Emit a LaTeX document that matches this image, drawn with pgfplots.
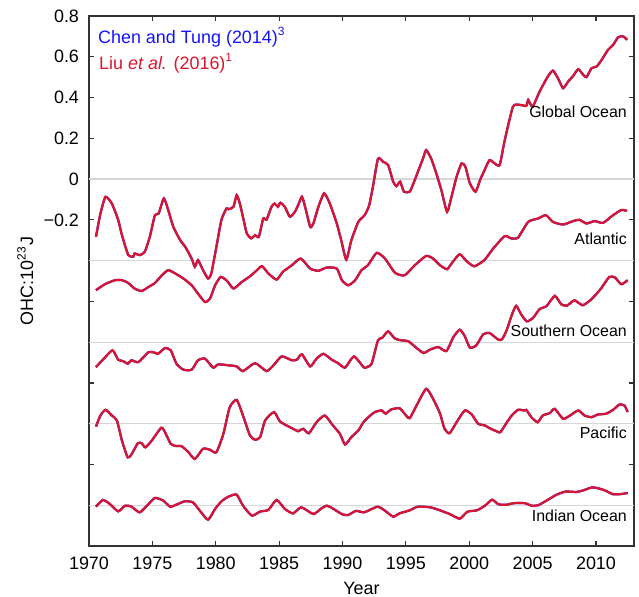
\documentclass[border=0pt]{standalone}
\usepackage{pgfplots}
\pgfplotsset{compat=1.18}
\usepackage{pgfplotstable}
\usepackage{fontspec}
\setmainfont{Liberation Sans}
\definecolor{cred}{RGB}{218,22,45}
\definecolor{cblue}{RGB}{20,20,250}
\definecolor{gridc}{RGB}{215,215,215}
\definecolor{axc}{RGB}{50,50,50}

\pgfplotstableread{
x y
1970.55 -0.283
1970.9 -0.17
1971.3 -0.087
1971.8 -0.12
1972.3 -0.20
1972.6 -0.275
1973.1 -0.373
1973.5 -0.38
1973.6 -0.365
1974.0 -0.373
1974.4 -0.357
1974.8 -0.283
1975.2 -0.177
1975.5 -0.169
1975.9 -0.095
1976.25 -0.152
1976.65 -0.234
1977.2 -0.30
1977.6 -0.333
1978.1 -0.39
1978.35 -0.43
1978.6 -0.398
1979.0 -0.447
1979.4 -0.488
1979.65 -0.463
1980.05 -0.333
1980.45 -0.20
1980.85 -0.144
1981.0 -0.148
1981.4 -0.136
1981.65 -0.079
1981.9 -0.12
1982.2 -0.20
1982.45 -0.267
1982.8 -0.291
1983.1 -0.275
1983.4 -0.283
1983.75 -0.193
1984.0 -0.20
1984.4 -0.136
1984.65 -0.12
1984.9 -0.136
1985.1 -0.116
1985.45 -0.136
1985.85 -0.185
1986.25 -0.16
1986.5 -0.128
1986.8 -0.087
1987.05 -0.136
1987.45 -0.234
1987.7 -0.218
1988.1 -0.136
1988.55 -0.07
1989.0 -0.12
1989.55 -0.218
1989.9 -0.30
1990.3 -0.395
1990.7 -0.30
1991.25 -0.21
1991.75 -0.177
1992.1 -0.13
1992.4 -0.038
1992.8 0.10
1993.2 0.085
1993.6 0.069
1994.0 -0.013
1994.25 -0.035
1994.55 -0.013
1994.85 -0.062
1995.3 -0.062
1995.6 -0.021
1996.0 0.044
1996.35 0.10
1996.6 0.142
1997.0 0.10
1997.4 0.028
1997.8 -0.054
1998.25 -0.16
1998.6 -0.087
1999.0 0.011
1999.4 0.077
1999.7 0.06
2000.05 -0.021
2000.5 -0.062
2000.85 -0.005
2001.15 0.036
2001.6 0.093
2002.0 0.077
2002.4 0.069
2002.8 0.19
2003.45 0.355
2004.0 0.364
2004.5 0.359
2004.65 0.388
2005.0 0.355
2005.55 0.429
2006.2 0.503
2006.6 0.532
2007.0 0.495
2007.4 0.446
2007.8 0.478
2008.2 0.506
2008.6 0.539
2009.0 0.511
2009.25 0.50
2009.65 0.544
2010.05 0.552
2010.45 0.585
2010.95 0.634
2011.35 0.658
2011.75 0.696
2012.15 0.70
2012.45 0.683
}\globtab

\pgfplotstableread{
x y
1970.55 -0.545
1971.25 -0.516
1972.05 -0.496
1972.6 -0.496
1973.1 -0.51
1973.6 -0.537
1974.15 -0.549
1974.7 -0.529
1975.2 -0.51
1975.75 -0.472
1976.25 -0.447
1976.8 -0.463
1977.45 -0.488
1978.1 -0.521
1978.6 -0.562
1979.15 -0.603
1979.55 -0.586
1979.95 -0.521
1980.4 -0.48
1980.9 -0.50
1981.4 -0.537
1982.05 -0.505
1982.7 -0.477
1983.2 -0.45
1983.65 -0.427
1984.15 -0.463
1984.8 -0.493
1985.3 -0.455
1986.0 -0.423
1986.7 -0.39
1987.45 -0.439
1988.1 -0.45
1988.75 -0.434
1989.55 -0.439
1989.95 -0.496
1990.45 -0.521
1991.0 -0.496
1991.5 -0.447
1992.0 -0.423
1992.7 -0.362
1993.35 -0.39
1994.15 -0.46
1994.9 -0.472
1995.7 -0.423
1996.6 -0.377
1997.15 -0.39
1997.7 -0.423
1998.25 -0.442
1998.7 -0.406
1999.25 -0.369
1999.8 -0.403
2000.4 -0.428
2001.2 -0.397
2001.9 -0.34
2002.8 -0.28
2003.3 -0.291
2003.85 -0.287
2004.65 -0.21
2005.45 -0.193
2006.05 -0.177
2006.6 -0.21
2007.4 -0.223
2008.2 -0.206
2008.7 -0.20
2009.25 -0.218
2009.9 -0.206
2010.55 -0.215
2011.35 -0.177
2012.0 -0.152
2012.45 -0.156
}\atltab

\pgfplotstableread{
x y
1970.55 -0.922
1971.1 -0.886
1971.85 -0.84
1972.3 -0.886
1972.7 -0.893
1973.05 -0.906
1973.35 -0.889
1973.9 -0.898
1974.7 -0.849
1975.2 -0.852
1975.45 -0.857
1976.0 -0.829
1976.45 -0.84
1976.9 -0.906
1977.45 -0.935
1978.1 -0.935
1978.6 -0.889
1979.15 -0.881
1979.8 -0.925
1980.2 -0.909
1981.05 -0.914
1981.65 -0.919
1982.15 -0.942
1983.1 -0.903
1984.0 -0.942
1984.55 -0.914
1985.2 -0.87
1986.0 -0.889
1986.4 -0.886
1986.8 -0.86
1987.45 -0.919
1987.95 -0.881
1988.5 -0.857
1989.15 -0.886
1989.65 -0.903
1990.2 -0.925
1990.9 -0.87
1991.7 -0.925
1992.0 -0.92
1992.3 -0.906
1992.8 -0.791
1993.15 -0.778
1993.6 -0.747
1994.15 -0.783
1994.65 -0.791
1995.2 -0.796
1995.85 -0.829
1996.4 -0.853
1996.9 -0.837
1997.55 -0.824
1998.2 -0.844
1998.75 -0.775
1999.25 -0.739
1999.65 -0.771
2000.05 -0.827
2000.55 -0.816
2001.1 -0.762
2001.6 -0.755
2002.3 -0.788
2002.6 -0.785
2002.95 -0.742
2003.35 -0.668
2003.7 -0.622
2004.1 -0.664
2004.55 -0.698
2005.05 -0.68
2005.55 -0.638
2006.1 -0.623
2006.75 -0.573
2007.25 -0.614
2007.7 -0.621
2008.3 -0.595
2008.95 -0.619
2009.6 -0.592
2010.05 -0.562
2010.4 -0.537
2011.05 -0.48
2011.5 -0.483
2012.0 -0.516
2012.5 -0.496
}\soutab

\pgfplotstableread{
x y
1970.55 -1.214
1970.9 -1.16
1971.3 -1.132
1971.8 -1.16
1972.2 -1.184
1972.6 -1.283
1973.05 -1.365
1973.35 -1.351
1973.85 -1.296
1974.15 -1.296
1974.45 -1.316
1974.95 -1.283
1975.7 -1.22
1976.0 -1.242
1976.45 -1.299
1976.9 -1.31
1977.3 -1.31
1977.85 -1.34
1978.35 -1.373
1979.0 -1.323
1979.55 -1.328
1980.05 -1.34
1980.6 -1.25
1981.1 -1.12
1981.65 -1.083
1982.15 -1.16
1982.7 -1.258
1983.1 -1.279
1983.5 -1.266
1983.9 -1.184
1984.6 -1.143
1985.05 -1.188
1985.6 -1.209
1986.1 -1.225
1986.5 -1.237
1986.9 -1.225
1987.35 -1.247
1987.95 -1.193
1988.6 -1.16
1989.25 -1.209
1989.8 -1.25
1990.2 -1.302
1990.7 -1.266
1991.25 -1.233
1991.65 -1.193
1992.1 -1.165
1992.55 -1.143
1993.1 -1.135
1993.4 -1.151
1993.85 -1.13
1994.5 -1.124
1994.9 -1.151
1995.3 -1.173
1995.85 -1.11
1996.6 -1.029
1997.15 -1.078
1997.7 -1.151
1998.05 -1.225
1998.45 -1.247
1999.0 -1.193
1999.65 -1.135
2000.2 -1.155
2000.7 -1.20
2001.25 -1.209
2001.6 -1.222
2002.15 -1.237
2002.45 -1.242
2002.9 -1.2
2003.35 -1.16
2003.85 -1.132
2004.35 -1.135
2004.5 -1.132
2004.9 -1.168
2005.4 -1.193
2005.8 -1.16
2006.35 -1.148
2006.75 -1.127
2007.4 -1.176
2007.95 -1.16
2008.6 -1.135
2009.1 -1.16
2009.65 -1.168
2010.15 -1.155
2010.8 -1.151
2011.35 -1.132
2011.85 -1.106
2012.25 -1.111
2012.5 -1.143
}\pactab

\pgfplotstableread{
x y
1970.55 -1.607
1971.1 -1.574
1971.65 -1.594
1972.3 -1.63
1972.85 -1.602
1973.35 -1.607
1974.0 -1.635
1974.7 -1.594
1975.2 -1.564
1975.85 -1.577
1976.4 -1.607
1976.9 -1.597
1977.55 -1.581
1978.2 -1.586
1978.85 -1.635
1979.4 -1.671
1979.95 -1.618
1980.45 -1.581
1981.0 -1.558
1981.65 -1.548
1982.15 -1.602
1982.85 -1.651
1983.5 -1.631
1984.15 -1.623
1984.8 -1.574
1985.45 -1.618
1986.1 -1.64
1986.75 -1.61
1987.7 -1.643
1988.35 -1.615
1988.75 -1.602
1989.15 -1.613
1990.0 -1.645
1990.45 -1.648
1991.05 -1.628
1991.7 -1.635
1992.15 -1.623
1992.8 -1.607
1993.35 -1.627
1994.0 -1.656
1994.5 -1.64
1995.3 -1.625
1995.95 -1.607
1996.9 -1.61
1997.6 -1.623
1998.45 -1.643
1999.25 -1.666
1999.85 -1.632
2000.6 -1.625
2001.25 -1.602
2001.8 -1.573
2002.3 -1.595
2002.9 -1.598
2003.5 -1.59
2004.4 -1.59
2004.9 -1.602
2005.45 -1.6
2006.35 -1.568
2006.9 -1.548
2007.6 -1.533
2008.45 -1.535
2008.95 -1.528
2009.65 -1.513
2010.05 -1.515
2010.65 -1.526
2011.35 -1.546
2012.0 -1.545
2012.5 -1.54
}\indtab

\begin{document}
\begin{tikzpicture}
\begin{axis}[
  scale only axis, width=272.5bp, height=265bp,
  xmin=1970, xmax=2013, ymin=-1.8, ymax=0.8,
  axis line style={axc, line width=0.6bp},
  tick style={axc, line width=0.6bp},
  tick align=inside,
  major tick length=2.5bp,
  xtick={1970,1975,1980,1985,1990,1995,2000,2005,2010},
  xticklabels={1970,1975,1980,1985,1990,1995,2000,2005,2010},
  ytick={-1.8,-1.6,-1.4,-1.2,-1.0,-0.8,-0.6,-0.4,-0.2,0,0.2,0.4,0.6,0.8},
  yticklabels={{},{},{},{},{},{},{},{},−0.2,0,0.2,0.4,0.6,0.8},
  xticklabel style={font=\fontsize{9}{10}\selectfont, yshift=-2.2bp},
  yticklabel style={font=\fontsize{9}{10}\selectfont, xshift=-1.5bp},
  extra y ticks={-1.6,-1.2,-0.8,-0.4,0},
  extra y tick labels={},
  extra y tick style={grid=major, major grid style={gridc, line width=0.6bp}, major tick length=0pt},
  xlabel={Year},
  ylabel={OHC:10\textsuperscript{23}J},
  label style={font=\fontsize{9}{10}\selectfont},
  xlabel style={at={(axis description cs:0.5,0)}, anchor=north, yshift=-14.5bp},
  ylabel style={at={(axis description cs:-0.117,0.5)}, anchor=center},
]
\addplot[cblue, line width=1.1bp, smooth, tension=0.35] table {\globtab};
\addplot[cred, line width=1.1bp, smooth, tension=0.35] table {\globtab};
\addplot[cblue, line width=1.1bp, smooth, tension=0.35] table {\atltab};
\addplot[cred, line width=1.1bp, smooth, tension=0.35] table {\atltab};
\addplot[cblue, line width=1.1bp, smooth, tension=0.35] table {\soutab};
\addplot[cred, line width=1.1bp, smooth, tension=0.35] table {\soutab};
\addplot[cblue, line width=1.1bp, smooth, tension=0.35] table {\pactab};
\addplot[cred, line width=1.1bp, smooth, tension=0.35] table {\pactab};
\addplot[cblue, line width=1.1bp, smooth, tension=0.35] table {\indtab};
\addplot[cred, line width=1.1bp, smooth, tension=0.35] table {\indtab};

\node[anchor=west, inner sep=0pt, text=cblue, font=\fontsize{9}{10}\selectfont] at (axis description cs:0.016,0.960) {Chen and Tung (2014)\textsuperscript{3}};
\node[anchor=west, inner sep=0pt, text=cred, font=\fontsize{9}{10}\selectfont] at (axis description cs:0.018,0.911) {Liu \textit{et al.} (2016)\textsuperscript{1}};

\node[anchor=east, inner sep=0pt, font=\fontsize{8}{9}\selectfont] at (axis cs:2012.46,0.331) {Global Ocean};
\node[anchor=east, inner sep=0pt, font=\fontsize{8}{9}\selectfont] at (axis cs:2012.46,-0.291) {Atlantic};
\node[anchor=east, inner sep=0pt, font=\fontsize{8}{9}\selectfont] at (axis cs:2012.46,-0.742) {Southern Ocean};
\node[anchor=east, inner sep=0pt, font=\fontsize{8}{9}\selectfont] at (axis cs:2012.46,-1.246) {Pacific};
\node[anchor=east, inner sep=0pt, font=\fontsize{8}{9}\selectfont] at (axis cs:2012.46,-1.651) {Indian Ocean};
\end{axis}
\pgfresetboundingbox
\path[use as bounding box] (-44.5bp,-25.5bp) rectangle (275bp,273bp);
\end{tikzpicture}
\end{document}
